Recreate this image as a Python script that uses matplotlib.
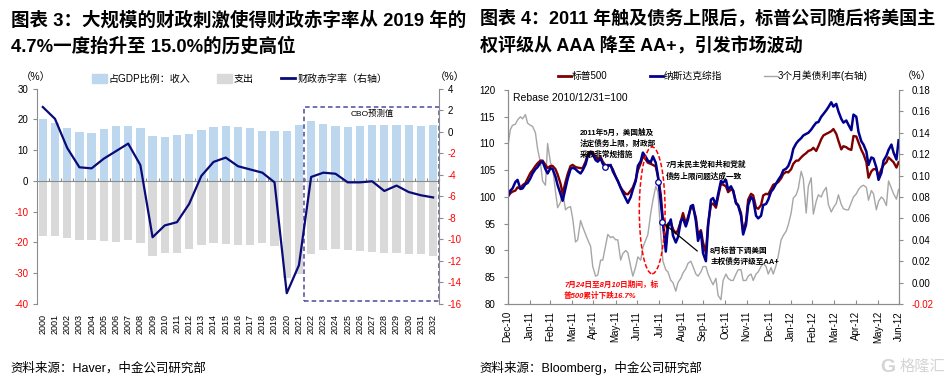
import numpy as np
import pandas as pd
import matplotlib
matplotlib.use('Agg')
import matplotlib.pyplot as plt
import matplotlib.dates as mdates
from matplotlib.patches import Patch, Rectangle, Ellipse
from matplotlib.lines import Line2D

plt.rcParams['font.family'] = ['Liberation Sans', 'Noto Sans CJK SC']
plt.rcParams['axes.unicode_minus'] = False

################################################################################
# data, left panel (% of GDP) #
###############################
years = list(range(2000, 2033))
revenue = [20.0, 19.0, 17.1, 15.8, 15.6, 16.8, 17.8, 18.0, 17.1, 14.6, 14.4,
           15.0, 15.3, 16.7, 17.4, 18.0, 17.7, 17.2, 16.3, 16.3, 16.3, 18.1,
           19.6, 18.6, 18.0, 17.6, 18.0, 18.3, 18.2, 18.1, 18.1, 18.0, 18.1]
spending = [-17.8, -17.8, -18.6, -19.3, -19.2, -19.4, -19.7, -19.3, -20.3, -24.4,
            -23.3, -23.5, -22.0, -20.8, -20.3, -20.5, -20.9, -20.8, -20.3, -21.0,
            -31.4, -30.3, -23.8, -22.4, -22.1, -22.4, -22.8, -23.1, -23.5, -23.3,
            -23.7, -23.9, -24.3]
deficit = [2.3, 1.2, -1.5, -3.3, -3.4, -2.5, -1.8, -1.1, -3.1, -9.8, -8.7, -8.4,
           -6.7, -4.1, -2.8, -2.4, -3.2, -3.5, -3.8, -4.7, -15.0, -12.4, -4.2,
           -3.8, -3.9, -4.7, -4.7, -4.6, -5.5, -5.0, -5.6, -5.9, -6.1]
cbo_first_year = 2022

################################################################################
# data, right panel (Fri / Tue readings, rebased 2010/12/31 = 100) #
####################################################################
fridays = pd.date_range('2010-12-31', '2012-06-29', freq='W-FRI')
tuesdays = pd.date_range('2011-01-04', '2012-06-26', freq='W-TUE')
dates = fridays.union(tuesdays)

spx = [100, 100.7, 101, 101.2, 101.8, 101.6, 102.2, 102.6, 103.4, 104.5,
       105, 105.8, 106.3, 106.8, 106.8, 106, 105.4, 105.8, 105.8, 105.2,
       104.2, 102.5, 100.6, 102.8, 104.3, 105.8, 106, 105.6, 105.5, 105.4,
       105.4, 106.6, 108, 108.5, 108.4, 107.5, 107, 107.5, 106.6, 105.9,
       106, 105.8, 105.2, 103.8, 103, 101.8, 101.2, 100.6, 100.5, 101.2,
       101.8, 103.2, 105, 106.3, 107.7, 107, 106.4, 106.2, 106, 105.7,
       103.8, 100.5, 95.6, 91, 95, 95.3, 94, 93.2, 93.8, 95.5,
       97, 95, 96.3, 98, 98, 96.2, 93, 93.8, 91.5, 89.5,
       95, 98.5, 98.8, 98, 100, 102.5, 102.3, 102, 100.9, 101.4,
       101.2, 99, 98.5, 97, 93.5, 95.5, 99.5, 100.6, 100.3, 98,
       97.8, 98.5, 100.3, 100.6, 100.5, 101.5, 102.3, 102.5, 102.8, 103.5,
       104.3, 104.7, 104.6, 105.2, 106.2, 106.8, 106.8, 107.4, 107.8, 108.2,
       108.6, 108.8, 109.2, 108.6, 109.5, 110.8, 111.5, 111.8, 112, 112.3,
       112.7, 111.8, 110.5, 108.9, 109.5, 109.3, 109, 108.8, 111.4, 111.3,
       110.2, 108.8, 108, 106.5, 103.6, 104.8, 105.2, 105.2, 103.8, 105.2,
       106, 106.5, 107.4, 106.9, 106.5, 105.5, 106.5]
nasdaq = [100, 101.2, 101.6, 102.8, 103.2, 101.5, 101.6, 102.4, 102.6, 103.5,
          104.4, 105.2, 105.6, 106.4, 106.6, 105.2, 104.4, 105.4, 105.2, 103.8,
          102.2, 100.6, 99.3, 101.6, 103.4, 105.2, 105.5, 105.2, 104.8, 104.4,
          105, 106.1, 107.6, 108.2, 108, 106.9, 106.6, 107.2, 106.2, 105.5,
          105.8, 106, 104.8, 103.8, 103, 101.7, 100.8, 99.7, 98.9, 100,
          101.4, 103, 105.8, 106.7, 108.3, 107.5, 106.8, 106.5, 107.6, 106.4,
          104, 99, 95.2, 89.8, 94.5, 95.8, 92.8, 91.5, 92.5, 95.5,
          96, 94.5, 95.8, 98.3, 98.5, 95.5, 91.8, 93.5, 89.5, 88,
          94.5, 99.5, 99.8, 98.5, 100.5, 103, 102.7, 103.2, 101.4, 102,
          101.2, 98.8, 98.4, 96.5, 93, 94.8, 98.5, 100, 99.5, 96.5,
          96, 96.5, 98.5, 98.7, 99.5, 101, 101.5, 102.5, 103.2, 104,
          105, 105.3, 105.8, 107.2, 109, 110, 110.5, 111, 111.5, 111.8,
          112, 112.6, 113.2, 113.9, 114, 115, 115.5, 116.2, 116.8, 117.7,
          116.9, 117.4, 116, 114.6, 113.9, 114.3, 113.5, 112.5, 115.4, 115,
          112.2, 110.4, 109.8, 108.5, 106, 107.4, 107.2, 105.5, 103.2, 104.5,
          106.8, 107.7, 108.8, 109.8, 108.3, 107, 110.6]
bill_3m = [0.125, 0.143, 0.147, 0.148, 0.152, 0.155, 0.153, 0.157, 0.149, 0.147,
           0.146, 0.140, 0.125, 0.112, 0.095, 0.091, 0.130, 0.112, 0.108, 0.085,
           0.070, 0.075, 0.085, 0.068, 0.070, 0.071, 0.060, 0.038, 0.040, 0.058,
           0.052, 0.045, 0.040, 0.034, 0.015, 0.006, 0.007, 0.021, 0.021, 0.035,
           0.045, 0.042, 0.043, 0.040, 0.040, 0.021, 0.027, 0.030, 0.028, 0.015,
           0.006, 0.015, 0.024, 0.021, 0.033, 0.040, 0.045, 0.065, 0.077, 0.090,
           0.085, 0.045, 0.020, 0.012, 0.010, 0.002, 0.000, -0.008, 0.000, 0.004,
           0.009, 0.013, 0.018, 0.020, 0.015, 0.008, 0.006, 0.010, 0.015, 0.015,
           0.008, 0.002, -0.002, 0.004, -0.012, -0.016, 0.002, 0.008, 0.004, 0.002,
           0.002, 0.008, 0.012, 0.012, 0.002, 0.002, 0.006, 0.008, 0.002, 0.008,
           0.010, 0.015, 0.018, 0.015, 0.008, 0.014, 0.008, 0.016, 0.025, 0.040,
           0.044, 0.048, 0.054, 0.065, 0.079, 0.082, 0.088, 0.104, 0.097, 0.065,
           0.090, 0.098, 0.064, 0.076, 0.082, 0.080, 0.085, 0.089, 0.073, 0.066,
           0.070, 0.074, 0.082, 0.073, 0.069, 0.068, 0.068, 0.075, 0.080, 0.083,
           0.087, 0.090, 0.091, 0.089, 0.077, 0.086, 0.083, 0.068, 0.076, 0.080,
           0.078, 0.072, 0.095, 0.088, 0.083, 0.078, 0.087]

# event markers on the Nasdaq line
event_dates = pd.to_datetime(['2011-05-16', '2011-07-29', '2011-08-04'])
event_values = [105.6, 102.8, 95.3]

################################################################################
# styles #
##########
W, H = 952, 384
REV = '#bdd7ee'
SPD = '#d9d9d9'
NAVY = '#0a0a78'
MAROON = '#800000'
NQ_BLUE = '#000090'
GRAY_LINE = '#a6a6a6'
SPINE = '#8c8c8c'
RED = '#ff0000'


def fx(x):
    return x / W


def fy(y):
    return 1 - y / H


def color_negatives(labels, values):
    for lab, v in zip(labels, values):
        lab.set_color(RED if v < 0 else 'black')


fig = plt.figure(figsize=(W / 100, H / 100), dpi=100)

################################################################################
# left panel #
##############
axL = fig.add_axes([fx(36.7), fy(304), fx(402.5), 215.3 / H])
x = np.arange(len(years))
axL.bar(x, revenue, width=0.68, color=REV, zorder=2)
axL.bar(x, spending, width=0.68, color=SPD, zorder=2)
axL.axhline(0, color=SPINE, lw=0.8, zorder=3)
axL.set_xlim(-0.5, len(years) - 0.5)
axL.set_ylim(-40, 30)
yt = list(range(-40, 31, 10))
axL.set_yticks(yt, [str(v) for v in yt])
color_negatives(axL.get_yticklabels(), yt)
axL.set_xticks(x, [str(y) for y in years], rotation=90)
axL.tick_params(axis='x', length=0, labelsize=6.5, pad=7)
axL.tick_params(axis='y', length=3, color=SPINE, labelsize=7, pad=3)
for s in ['top', 'bottom', 'right']:
    axL.spines[s].set_visible(False)
axL.spines['left'].set_color(SPINE)

# small category ticks along the zero line
zero_ax = axL.secondary_xaxis(40 / 70)
zero_ax.set_xticks(np.arange(-0.5, len(years), 1))
zero_ax.tick_params(direction='out', length=2.5, color=SPINE, labeltop=False,
                    labelbottom=False)
for s in zero_ax.spines.values():
    s.set_visible(False)

axL2 = axL.twinx()
axL2.plot(x, deficit, color=NAVY, lw=1.6, zorder=4)
axL2.set_ylim(-16, 4)
yt2 = list(range(-16, 5, 2))
axL2.set_yticks(yt2, [str(v) for v in yt2])
color_negatives(axL2.get_yticklabels(), yt2)
axL2.tick_params(axis='y', length=3, color=SPINE, labelsize=7, pad=3)
for s in ['top', 'bottom', 'left']:
    axL2.spines[s].set_visible(False)
axL2.spines['right'].set_color(SPINE)

cbo_left = years.index(cbo_first_year) - 0.58
axL.add_patch(Rectangle((cbo_left, -38.9), len(years) - 0.5 - cbo_left, 63.0,
                        fill=False, edgecolor='#4a4a9c', lw=1.1,
                        linestyle=(0, (3, 2)), zorder=5, clip_on=False))
axL.text(27.0, 21.7, 'CBO预测值', fontsize=6, ha='center', va='center', zorder=6)

fig.legend(handles=[Patch(color=REV), Patch(color=SPD),
                    Line2D([], [], color=NAVY, lw=2)],
           labels=['占GDP比例：收入', '支出', '财政赤字率（右轴）'],
           loc='center left', bbox_to_anchor=(fx(92), fy(79)), ncol=3,
           frameon=False, fontsize=7.2, handlelength=1.45, handleheight=0.9,
           handletextpad=0.2, columnspacing=2.7, borderpad=0, borderaxespad=0)
fig.text(fx(21), fy(77), '（%）', fontsize=7.5, va='center')
fig.text(fx(435), fy(77), '（%）', fontsize=7.5, va='center')

################################################################################
# right panel #
###############
axR = fig.add_axes([fx(507.5), fy(304), fx(391.8), 214 / H])
axR2 = axR.twinx()
axR.set_zorder(axR2.get_zorder() + 1)
axR.patch.set_visible(False)

axR2.plot(dates, bill_3m, color=GRAY_LINE, lw=1.0)
axR.plot(dates, spx, color=MAROON, lw=1.7)
axR.plot(dates, nasdaq, color=NQ_BLUE, lw=1.8)
axR.plot(event_dates, event_values, 'o', ms=4, mfc='white', mec=NQ_BLUE, mew=0.9,
         zorder=6)

month_ticks = pd.date_range('2010-12-31', '2012-06-30', freq='ME')
axR.set_xlim(month_ticks[0], month_ticks[-1])
axR.set_xticks(month_ticks, [d.strftime('%b-%y') for d in month_ticks],
               rotation=90)
axR.tick_params(axis='x', direction='in', length=3, color=SPINE, labelsize=7,
                pad=5)
axR.set_ylim(80, 120)
ytr = list(range(80, 121, 5))
axR.set_yticks(ytr, [str(v) for v in ytr])
axR.tick_params(axis='y', length=3, color=SPINE, labelsize=7, pad=6)

axR2.set_ylim(-0.02, 0.18)
ytr2 = list(np.round(np.arange(-2, 19, 2) / 100, 2))
axR2.set_yticks(ytr2, [f'{v:.2f}' for v in ytr2])
color_negatives(axR2.get_yticklabels(), ytr2)
axR2.tick_params(axis='y', length=3, color=SPINE, labelsize=7, pad=6)

for a in (axR, axR2):
    a.spines['top'].set_visible(False)
    for s in ['left', 'right', 'bottom']:
        a.spines[s].set_color(SPINE)

# annotations
axR.text(0.015, 0.985, 'Rebase 2010/12/31=100', transform=axR.transAxes,
         fontsize=7.5, va='top')
axR.text(pd.Timestamp('2011-04-11'), 112.8,
         '2011年5月，美国触及\n法定债务上限，财政部\n采取非常规措施',
         fontsize=5.5, fontweight='bold', va='top', linespacing=1.45)
axR.text(pd.Timestamp('2011-08-09'), 106.7,
         '7月末民主党和共和党就\n债务上限问题达成一致',
         fontsize=5.5, fontweight='bold', va='top', linespacing=1.45)
axR.text(pd.Timestamp('2011-10-10'), 90.6,
         '8月标普下调美国\n主权债务评级至AA+',
         fontsize=5.5, fontweight='bold', va='top', linespacing=1.45)
axR.annotate('', xy=(event_dates[2], event_values[2]),
             xytext=(pd.Timestamp('2011-09-22'), 89.9),
             arrowprops=dict(arrowstyle='-|>', color='black', lw=0.9,
                             mutation_scale=6, shrinkA=0, shrinkB=2))
axR.text(pd.Timestamp('2011-03-20'), 84.3,
         '7月24日至8月10日期间，标\n普500累计下跌16.7%',
         fontsize=5.5, fontweight='bold', style='italic', color=RED, va='top',
         linespacing=1.45)
axR.add_patch(Ellipse((mdates.date2num(pd.Timestamp('2011-07-21')), 97.5),
                      36, 23.7, fill=False, edgecolor=RED, lw=1.1,
                      linestyle=(0, (3, 1.5)), zorder=5))

fig.legend(handles=[Line2D([], [], color=MAROON, lw=2),
                    Line2D([], [], color=NQ_BLUE, lw=2),
                    Line2D([], [], color=GRAY_LINE, lw=1)],
           labels=['标普500', '纳斯达克综指', '3个月美债利率(右轴)'],
           loc='center left', bbox_to_anchor=(fx(558), fy(76)), ncol=3,
           frameon=False, fontsize=7, handlelength=1.35, handletextpad=0.1,
           columnspacing=4.3, borderpad=0, borderaxespad=0)
fig.text(fx(902), fy(76), '（%）', fontsize=7.5, va='center')

################################################################################
# titles, sources #
###################
fig.text(fx(11), fy(20), '图表 3：大规模的财政刺激使得财政赤字率从 2019 年的',
         fontsize=13.3, fontweight='bold', va='center')
fig.text(fx(11), fy(46.7), '4.7%一度抬升至 15.0%的历史高位',
         fontsize=13.3, fontweight='bold', va='center')
fig.text(fx(480), fy(19.5), '图表 4：2011 年触及债务上限后，标普公司随后将美国主',
         fontsize=13.0, fontweight='bold', va='center')
fig.text(fx(480), fy(46.7), '权评级从 AAA 降至 AA+，引发市场波动',
         fontsize=13.0, fontweight='bold', va='center')

fig.text(fx(10), fy(368), '资料来源：Haver，中金公司研究部', fontsize=9, va='center')
fig.text(fx(479), fy(368), '资料来源：Bloomberg，中金公司研究部', fontsize=9, va='center')

# watermark
fig.text(fx(880), fy(367), 'G', fontsize=14, color='#d4d4d4', fontweight='bold',
         va='center')
fig.text(fx(900), fy(367), '格隆汇', fontsize=11, color='#d4d4d4', va='center')

fig.savefig('out.png', dpi=100)
